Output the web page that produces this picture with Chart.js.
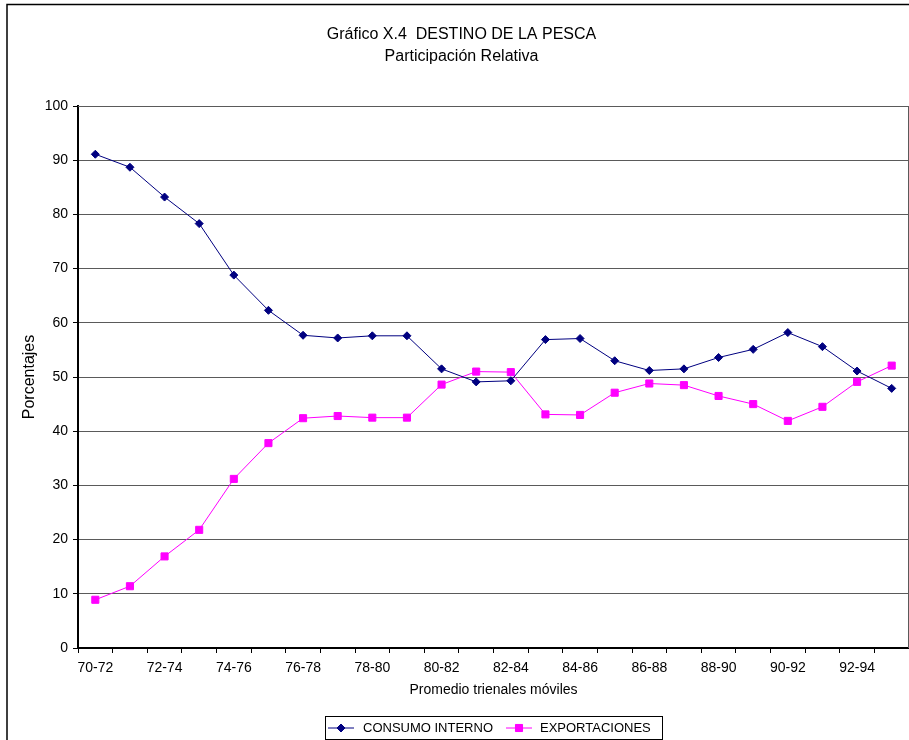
<!DOCTYPE html>
<html>
<head>
<meta charset="utf-8">
<script src="https://cdn.jsdelivr.net/npm/chart.js@4.4.1/dist/chart.umd.min.js"></script>
<style>
  html, body { margin: 0; padding: 0; background: #fff; overflow: hidden; }
  #wrap { width: 909px; height: 740px; overflow: hidden; }
</style>
</head>
<body>
<div id="wrap"><canvas id="c" width="915" height="740"></canvas></div>
<script>
const categories = ['70-72','71-73','72-74','73-75','74-76','75-77','76-78','77-79','78-80','79-81','80-82','81-83',
                    '82-84','83-85','84-86','85-87','86-88','87-89','88-90','89-91','90-92','91-93','92-94','93-95'];
const consumoInterno = [91.1, 88.7, 83.2, 78.3, 68.8, 62.3, 57.7, 57.2, 57.6, 57.6, 51.5, 49.1,
                        49.3, 56.9, 57.1, 53.0, 51.2, 51.5, 53.6, 55.1, 58.2, 55.6, 51.1, 47.9];
const exportaciones = [8.9, 11.4, 16.9, 21.8, 31.2, 37.8, 42.4, 42.8, 42.5, 42.5, 48.6, 51.0,
                       50.9, 43.1, 43.0, 47.1, 48.8, 48.5, 46.5, 45.0, 41.9, 44.5, 49.1, 52.1];
const seriesNames = ['CONSUMO INTERNO', 'EXPORTACIONES'];
const titleLines = ['Gráfico X.4  DESTINO DE LA PESCA', 'Participación Relativa'];
const xTitle = 'Promedio trienales móviles';
const yTitle = 'Porcentajes';

const FONT = "'Liberation Sans', Arial, sans-serif";
const NAVY = '#000080';
const MAGENTA = '#FF00FF';

const framePlugin = {
  id: 'frame',
  beforeDraw(chart) {
    const ctx = chart.ctx;
    ctx.save();
    ctx.fillStyle = '#fff';
    ctx.fillRect(0, 0, chart.width, chart.height);
    ctx.strokeStyle = '#000';
    ctx.lineWidth = 1.5;
    ctx.strokeRect(7, 4.5, 1000, 1000);
    ctx.restore();
  },
  afterDatasetsDraw(chart) {
    const ctx = chart.ctx;
    const a = chart.chartArea;
    ctx.save();
    ctx.strokeStyle = '#5a5a5a';
    ctx.lineWidth = 1;
    ctx.beginPath();
    ctx.moveTo(a.left, a.top + 0.5);
    ctx.lineTo(a.right - 0.5, a.top + 0.5);
    ctx.lineTo(a.right - 0.5, a.bottom);
    ctx.stroke();
    ctx.restore();
  },
  afterDraw(chart) {
    const ctx = chart.ctx;
    const ds = chart.data.datasets;
    const bx = 325, by = 716, bw = 337, bh = 23;
    ctx.save();
    ctx.strokeStyle = '#000';
    ctx.lineWidth = 1;
    ctx.strokeRect(bx + 0.5, by + 0.5, bw, bh);
    ctx.font = '13px ' + FONT;
    ctx.textBaseline = 'middle';
    ctx.textAlign = 'left';
    const cy = by + bh / 2 + 0.5;
    const items = [
      { x: 328, ds: ds[0], text: seriesNames[0], tx: 363 },
      { x: 506, ds: ds[1], text: seriesNames[1], tx: 540 }
    ];
    items.forEach(it => {
      ctx.strokeStyle = it.ds.borderColor;
      ctx.lineWidth = 1;
      ctx.beginPath();
      ctx.moveTo(it.x, cy);
      ctx.lineTo(it.x + 26, cy);
      ctx.stroke();
      ctx.fillStyle = it.ds.borderColor;
      Chart.helpers.drawPoint(ctx, { pointStyle: it.ds.pointStyle, radius: it.ds.pointRadius, borderWidth: 1, rotation: 0 }, it.x + 13, cy);
      ctx.fill();
      ctx.fillStyle = '#000';
      ctx.fillText(it.text, it.tx, cy);
    });
    ctx.restore();
  }
};

new Chart(document.getElementById('c'), {
  type: 'line',
  data: {
    labels: categories,
    datasets: [
      {
        label: seriesNames[0], data: consumoInterno,
        borderColor: NAVY, backgroundColor: NAVY, borderWidth: 1,
        pointStyle: 'rectRot', pointRadius: 4, pointBorderWidth: 1,
        pointBackgroundColor: NAVY, pointBorderColor: NAVY, tension: 0
      },
      {
        label: seriesNames[1], data: exportaciones,
        borderColor: MAGENTA, backgroundColor: MAGENTA, borderWidth: 1,
        pointStyle: 'rect', pointRadius: 5, pointBorderWidth: 1,
        pointBackgroundColor: MAGENTA, pointBorderColor: MAGENTA, tension: 0
      }
    ]
  },
  options: {
    responsive: false,
    animation: false,
    devicePixelRatio: 1,
    layout: { padding: { left: 8, top: 24, right: 0, bottom: 0 } },
    plugins: {
      legend: { display: false },
      tooltip: { enabled: false },
      title: {
        display: true,
        text: titleLines,
        color: '#000',
        font: { family: FONT, size: 16, weight: 'normal', lineHeight: 1.375 },
        padding: { top: 0, bottom: 38 }
      }
    },
    scales: {
      x: {
        type: 'category',
        offset: true,
        grid: { display: true, drawOnChartArea: false, drawTicks: true, tickLength: 5, offset: true, color: '#000', tickColor: '#000' },
        border: { display: true, color: '#000', width: 2 },
        ticks: {
          autoSkip: false, maxRotation: 0, minRotation: 0, padding: 7, color: '#000',
          font: { family: FONT, size: 14 },
          callback: function (val, idx) { return idx % 2 === 0 ? this.getLabelForValue(val) : ''; }
        },
        title: { display: true, text: xTitle, color: '#000', font: { family: FONT, size: 14 }, padding: { top: 0, bottom: 41 } },
        afterFit(scale) { scale.height = 92; }
      },
      y: {
        min: 0, max: 100,
        grid: { color: '#5a5a5a', lineWidth: 1, tickLength: 5, tickColor: '#000', drawTicks: true },
        border: { display: true, color: '#000', width: 2 },
        ticks: { stepSize: 10, padding: 5, color: '#000', font: { family: FONT, size: 14 } },
        title: { display: true, text: yTitle, color: '#000', font: { family: FONT, size: 16 }, padding: { top: 12, bottom: 0 } },
        afterFit(scale) { scale.width = 70; }
      }
    }
  },
  plugins: [framePlugin]
});
</script>
</body>
</html>
